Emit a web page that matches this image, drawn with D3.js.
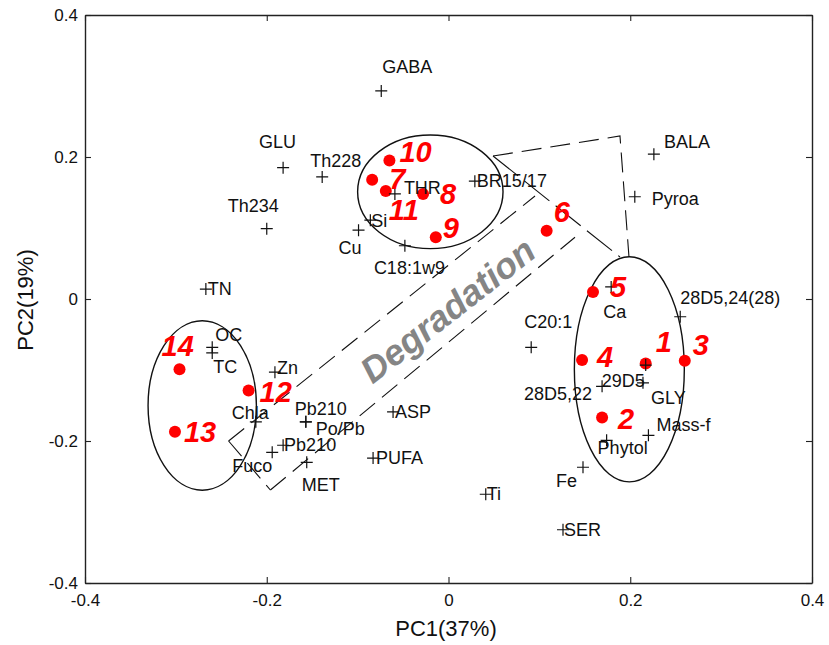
<!DOCTYPE html>
<html>
<head>
<meta charset="utf-8">
<script src="https://cdn.jsdelivr.net/npm/d3@7/dist/d3.min.js"></script>
<style>
  html, body { margin: 0; padding: 0; background: #fff; }
  svg { display: block; font-family: "Liberation Sans", Arial, Helvetica, sans-serif; }
</style>
</head>
<body>
<svg id="chart" width="829" height="645"></svg>
<script>
// ---- Axis ticks ----
const xTicks = [-0.4, -0.2, 0, 0.2, 0.4];
const yTicks = [-0.4, -0.2, 0, 0.2, 0.4];

// ---- Variable loadings (crosses) ----
const varNames = ["GABA", "GLU", "Th228", "Th234", "Cu", "Si", "C18:1w9", "THR", "BR15/17",
  "BALA", "Pyroa", "Ca", "28D5,24(28)", "C20:1", "29D5", "GLY", "28D5,22", "Mass-f", "Phytol",
  "Fe", "Ti", "SER", "TN", "OC", "TC", "Zn", "Chla", "Pb210", "Po/Pb", "Pb210", "Fuco", "MET",
  "ASP", "PUFA"];
const varPC1 = [-0.074, -0.182, -0.139, -0.200, -0.099, -0.086, -0.048, -0.059, 0.029,
  0.226, 0.205, 0.179, 0.255, 0.091, 0.217, 0.214, 0.169, 0.220, 0.174,
  0.148, 0.041, 0.126, -0.267, -0.260, -0.260, -0.191, -0.212, -0.157, -0.157, -0.182, -0.194, -0.156,
  -0.061, -0.083];
const varPC2 = [0.293, 0.185, 0.172, 0.099, 0.097, 0.111, 0.075, 0.148, 0.166,
  0.204, 0.144, 0.017, -0.025, -0.068, -0.093, -0.118, -0.123, -0.192, -0.199,
  -0.237, -0.275, -0.325, 0.014, -0.068, -0.076, -0.103, -0.173, -0.173, -0.173, -0.206, -0.216, -0.230,
  -0.159, -0.224];

// ---- Sample scores (red dots) ----
const sampleIds = ["1", "2", "3", "4", "5", "6", "7", "8", "9", "10", "11", "12", "13", "14"];
const samplePC1 = [0.217, 0.169, 0.260, 0.147, 0.159, 0.108, -0.084, -0.028, -0.014, -0.065, -0.069, -0.220, -0.301, -0.296];
const samplePC2 = [-0.091, -0.167, -0.087, -0.086, 0.010, 0.096, 0.168, 0.148, 0.087, 0.195, 0.152, -0.129, -0.187, -0.099];

// ---- Sample groups (ellipses) ----
const groupCx = [-0.020, 0.199, -0.271];
const groupCy = [0.151, -0.099, -0.150];
const groupRx = [0.080, 0.0605, 0.0596];
const groupRy = [0.080, 0.1585, 0.1193];

// ---- Degradation arrow outline (PC1, PC2) ----
const shaftUpper = [[-0.242, -0.200], [0.0952, 0.145]];
const shaftLower = [[-0.196, -0.269], [0.1392, 0.087]];
const shaftTail = [[-0.242, -0.200], [-0.196, -0.269]];
const headBase = [[0.049, 0.2014], [0.1887, 0.0592]];
const headTop = [[0.049, 0.2014], [0.1887, 0.2296], [0.1986, 0.0592]];
const arrowLabel = { text: "Degradation", pc1: -0.001, pc2: -0.016, angle: -38 };

const axisTitleX = "PC1(37%)";
const axisTitleY = "PC2(19%)";

// ---- Layout ----
const svg = d3.select("#chart");
const frameL = 85, frameR = 812, frameT = 15, frameB = 583;
const x = d3.scaleLinear().domain([-0.4, 0.4]).range([frameL, frameR]);
const y = d3.scaleLinear().domain([-0.4, 0.4]).range([frameB, frameT]);
const fmt = v => (v < 0 ? "-" : "") + (v === 0 ? "0" : Math.abs(v).toFixed(1));

// label offsets in pixels relative to each marker
const varLabelOffset = [[2, -24], [-23, -26], [-11, -16], [-38, -23], [-19, 18], [2, 1], [-30, 22], [10, -6], [3, 0],
  [11, -12], [18, 2], [-7, 25], [1, -19], [-6, -25], [-43, 16], [9, 15], [-77, 8], [9, -10], [-8, 8],
  [-26, 14], [2, 0], [2, 0], [3, 0], [4, -12], [2, 14], [3, -4], [-23, -9], [-10, -13], [11, 7], [2, 0], [-39, 14], [-4, 23],
  [3, 0], [4, 0]];
const sampleLabelOffset = [[12, -22], [18, 1], [10, -16], [17, -3], [19, -5], [9, -19], [19, -1], [19, 0], [9, -9],
  [12, -9], [5, 19], [13, 1], [11, 0], [-16, -23]];

// ---- Axes: frame with inward ticks ----
const axisStyle = g => {
  g.attr("font-family", null);
  g.select(".domain").attr("stroke", "#222").attr("stroke-width", 1.4).attr("fill", "none");
  g.selectAll(".tick line").attr("stroke", "#222").attr("stroke-width", 1.1);
  g.selectAll(".tick text").attr("fill", "#111").attr("font-size", 17);
};
svg.append("g").attr("transform", `translate(0,${frameB})`)
  .call(d3.axisBottom(x).tickValues(xTicks).tickFormat(fmt).tickSizeInner(-6).tickSizeOuter(0).tickPadding(11))
  .call(axisStyle);
svg.append("g").attr("transform", `translate(${frameL},0)`)
  .call(d3.axisLeft(y).tickValues(yTicks).tickFormat(fmt).tickSizeInner(-6).tickSizeOuter(0).tickPadding(7))
  .call(axisStyle);
svg.append("g").attr("transform", `translate(0,${frameT})`)
  .call(d3.axisTop(x).tickValues(xTicks).tickFormat("").tickSizeInner(-6).tickSizeOuter(0))
  .call(axisStyle);
svg.append("g").attr("transform", `translate(${frameR},0)`)
  .call(d3.axisRight(y).tickValues(yTicks).tickFormat("").tickSizeInner(-6).tickSizeOuter(0))
  .call(axisStyle);

// axis titles
svg.append("text").attr("x", 446).attr("y", 628).attr("text-anchor", "middle")
  .attr("dominant-baseline", "central").attr("font-size", 22).attr("fill", "#111").text(axisTitleX);
svg.append("text").attr("transform", "translate(25,300) rotate(-90)").attr("text-anchor", "middle")
  .attr("dominant-baseline", "central").attr("font-size", 22).attr("fill", "#111").text(axisTitleY);

// ---- Degradation arrow ----
const line = d3.line().x(d => x(d[0])).y(d => y(d[1]));
const arrow = svg.append("g").attr("fill", "none").attr("stroke", "#111").attr("stroke-width", 1.1);
[shaftUpper, shaftLower, shaftTail, headTop].forEach(pts =>
  arrow.append("path").attr("d", line(pts)).attr("stroke-dasharray", "20,9"));
arrow.append("path").attr("d", line(headBase)).attr("stroke-dasharray", "32,8");

svg.append("text")
  .attr("transform", `translate(${x(arrowLabel.pc1)},${y(arrowLabel.pc2)}) rotate(${arrowLabel.angle})`)
  .attr("text-anchor", "middle").attr("dominant-baseline", "central")
  .attr("font-size", 36).attr("font-weight", "bold").attr("font-style", "italic")
  .attr("fill", "#858585").text(arrowLabel.text);

// ---- Group ellipses ----
svg.append("g").selectAll("ellipse").data(groupCx).join("ellipse")
  .attr("cx", (d, i) => x(groupCx[i]))
  .attr("cy", (d, i) => y(groupCy[i]))
  .attr("rx", (d, i) => x(groupCx[i] + groupRx[i]) - x(groupCx[i]))
  .attr("ry", (d, i) => y(groupCy[i]) - y(groupCy[i] + groupRy[i]))
  .attr("fill", "none").attr("stroke", "#111").attr("stroke-width", 1.4);

// ---- Sample dots ----
svg.append("g").selectAll("circle").data(sampleIds).join("circle")
  .attr("cx", (d, i) => x(samplePC1[i]))
  .attr("cy", (d, i) => y(samplePC2[i]))
  .attr("r", 6).attr("fill", "#ff0000");

// ---- Variable crosses ----
const crossArm = 6;
svg.append("g").selectAll("path").data(varNames).join("path")
  .attr("d", (d, i) => {
    const cx = x(varPC1[i]), cy = y(varPC2[i]);
    return `M${cx - crossArm},${cy}H${cx + crossArm}M${cx},${cy - crossArm}V${cy + crossArm}`;
  })
  .attr("stroke", "#111").attr("stroke-width", 1.2).attr("fill", "none");

// ---- Variable labels ----
svg.append("g").selectAll("text").data(varNames).join("text")
  .attr("x", (d, i) => x(varPC1[i]) + varLabelOffset[i][0] - 1)
  .attr("y", (d, i) => y(varPC2[i]) + varLabelOffset[i][1])
  .attr("dominant-baseline", "central").attr("font-size", 18).attr("fill", "#111")
  .text(d => d);

// ---- Sample labels ----
svg.append("g").selectAll("text").data(sampleIds).join("text")
  .attr("x", (d, i) => x(samplePC1[i]) + sampleLabelOffset[i][0] - 2)
  .attr("y", (d, i) => y(samplePC2[i]) + sampleLabelOffset[i][1])
  .attr("dominant-baseline", "central").attr("font-size", 29)
  .attr("font-weight", "bold").attr("font-style", "italic").attr("fill", "#ff0000")
  .text(d => d);
</script>
</body>
</html>
